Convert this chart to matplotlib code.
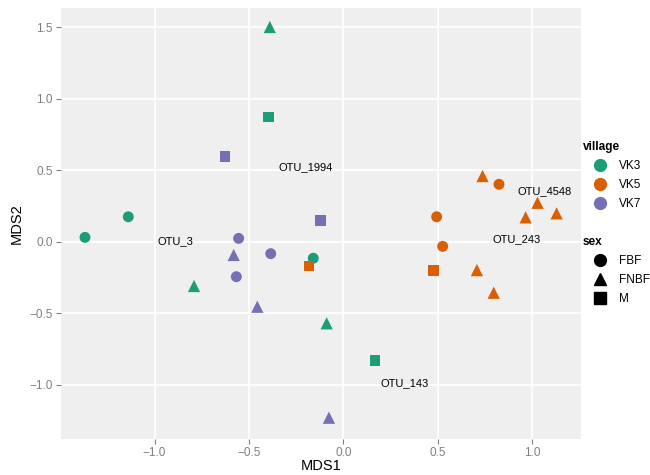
import matplotlib
matplotlib.use("Agg")
import matplotlib.pyplot as plt
from matplotlib.lines import Line2D

plt.rcParams['font.family'] = ['Liberation Sans', 'DejaVu Sans']

# NMDS site scores
mds1 = [-0.39, -0.396, -1.368, -1.139, -0.791, -0.160, -0.089, 0.167,
        -0.627, -0.121, -0.555, -0.385, -0.581, -0.567, -0.456, -0.077,
        -0.183, 0.736, 0.823, 0.493, 0.525, 0.475, 0.706, 0.795, 1.027, 0.964, 1.128]
mds2 = [1.50, 0.87, 0.029, 0.173, -0.311, -0.117, -0.572, -0.834,
        0.593, 0.146, 0.022, -0.085, -0.094, -0.246, -0.456, -1.232,
        -0.171, 0.458, 0.40, 0.173, -0.034, -0.204, -0.20, -0.358, 0.271, 0.169, 0.197]
village = ['VK3'] * 8 + ['VK7'] * 8 + ['VK5'] * 11
sex = ['FNBF', 'M', 'FBF', 'FBF', 'FNBF', 'FBF', 'FNBF', 'M',
       'M', 'M', 'FBF', 'FBF', 'FNBF', 'FBF', 'FNBF', 'FNBF',
       'M', 'FNBF', 'FBF', 'FBF', 'FBF', 'M', 'FNBF', 'FNBF', 'FNBF', 'FNBF', 'FNBF']

# species labels
otu_names = ['OTU_1994', 'OTU_3', 'OTU_4548', 'OTU_243', 'OTU_143']
otu_x = [-0.198, -0.89, 1.065, 0.918, 0.325]
otu_y = [0.52, 0.0, 0.353, 0.017, -0.987]

villages = ['VK3', 'VK5', 'VK7']
sexes = ['FBF', 'FNBF', 'M']
colors = {'VK3': '#1B9E77', 'VK5': '#D95F02', 'VK7': '#7570B3'}
markers = {'FBF': 'o', 'FNBF': '^', 'M': 's'}
sizes = {'FBF': 62, 'FNBF': 78, 'M': 58}

fig = plt.figure(figsize=(6.5, 4.75), dpi=100)
ax = fig.add_axes([61 / 650, 36 / 475, 520 / 650, 431 / 475])
ax.set_facecolor('#EFEFEF')

for x, y, v, s in zip(mds1, mds2, village, sex):
    ax.scatter(x, y, c=colors[v], marker=markers[s], s=sizes[s],
               edgecolors='none', zorder=3)

for name, x, y in zip(otu_names, otu_x, otu_y):
    ax.text(x, y, name, fontsize=8, ha='center', va='center', color='black', zorder=4)

ax.set_xlim(-1.495, 1.257)
ax.set_ylim(-1.381, 1.633)
ax.set_xticks([-1.0, -0.5, 0.0, 0.5, 1.0])
ax.set_yticks([-1.0, -0.5, 0.0, 0.5, 1.0, 1.5])
ax.set_xticklabels(['\u22121.0', '\u22120.5', '0.0', '0.5', '1.0'])
ax.set_yticklabels(['\u22121.0', '\u22120.5', '0.0', '0.5', '1.0', '1.5'])
ax.grid(True, color='white', linewidth=1.2)
ax.set_axisbelow(True)
for sp in ax.spines.values():
    sp.set_visible(False)
ax.tick_params(colors='#7F7F7F', labelsize=8.5, length=3.5, width=0.8, pad=2.5)
ax.set_xlabel('MDS1', fontsize=10.5, labelpad=0)
ax.set_ylabel('MDS2', fontsize=10.5, labelpad=4)

vh = [Line2D([], [], marker='o', ls='none', color=colors[v], markersize=8.5, label=v)
      for v in villages]
sh = [Line2D([], [], marker=markers[s], ls='none', color='black', markersize=8.5, label=s)
      for s in sexes]
leg_kw = dict(loc='upper left', frameon=False, fontsize=8.5, handlelength=3.0,
              handletextpad=0.05, labelspacing=0.6, borderaxespad=0, alignment='left')
leg1 = fig.legend(handles=vh, title='village',
                  bbox_to_anchor=(578 / 650, 1 - 136 / 475), **leg_kw)
leg2 = fig.legend(handles=sh, title='sex',
                  bbox_to_anchor=(578 / 650, 1 - 231 / 475), **leg_kw)
for leg in (leg1, leg2):
    leg.get_title().set_fontweight('bold')
    leg.get_title().set_fontsize(8.5)

fig.savefig('out.png', dpi=100)
